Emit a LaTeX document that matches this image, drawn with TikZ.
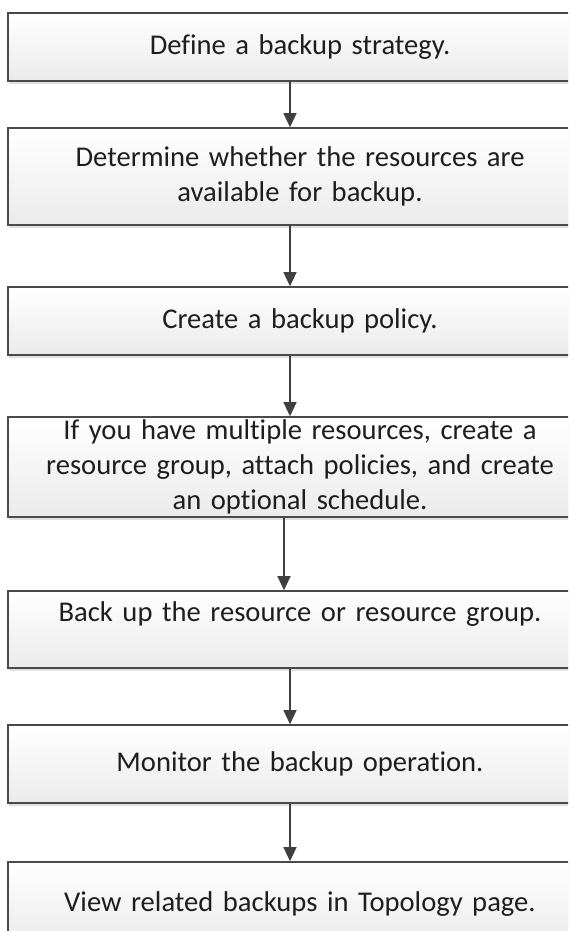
\documentclass[tikz,border=0pt]{standalone}
\usepackage{fontspec}
\setmainfont{Carlito}[Ligatures={NoCommon}]
\usetikzlibrary{shadows,arrows.meta}
\definecolor{boxline}{HTML}{4A4A4A}
\definecolor{arrline}{HTML}{404040}
\definecolor{txt}{HTML}{1E1E1E}
\tikzset{
  box/.style={draw=boxline, line width=1.6pt, top color=white, bottom color=black!8,
    minimum width=584pt, text width=575pt, align=center, inner sep=0pt, text=txt,
    font=\fontsize{28.6}{35}\selectfont,
    general shadow={fill=black!12, shadow xshift=1pt, shadow yshift=-3pt}},
  arr/.style={draw=arrline, line width=1.2pt, -{Triangle[length=14pt,width=13pt]}}
}
\begin{document}
\begin{tikzpicture}[x=1pt,y=-1pt]
\useasboundingbox (0,0) rectangle (568,931);
\clip (0,0) rectangle (568,931);
\node[box, minimum height=68pt] (b1) at (300,47) {Define a backup strategy.};
\node[box, minimum height=97pt] (b2) at (300,176.5) {Determine whether the resources are\\available for backup.};
\node[box, minimum height=68pt] (b3) at (300,321) {Create a backup policy.};
\node[box, minimum height=100pt] (b4) at (300,467) {If you have multiple resources, create a\\resource group, attach policies, and create\\an optional schedule.};
\node[box, minimum height=77pt] (b5) at (300,629.5) {Back up the resource or resource group.\\\mbox{}};
\node[box, minimum height=78pt] (b6) at (300,764) {Monitor the backup operation.};
\node[box, minimum height=84pt] (b7) at (300,904) {View related backups in Topology page.};
\draw[arr] ([xshift=-10pt]b1.south) -- ([xshift=-10pt]b2.north);
\draw[arr] ([xshift=-10pt]b2.south) -- ([xshift=-10pt]b3.north);
\draw[arr] ([xshift=-10pt]b3.south) -- ([xshift=-10pt]b4.north);
\draw[arr] ([xshift=-16pt]b4.south) -- ([xshift=-16pt]b5.north);
\draw[arr] ([xshift=-10pt]b5.south) -- ([xshift=-10pt]b6.north);
\draw[arr] ([xshift=-10pt]b6.south) -- ([xshift=-10pt]b7.north);
\end{tikzpicture}
\end{document}
